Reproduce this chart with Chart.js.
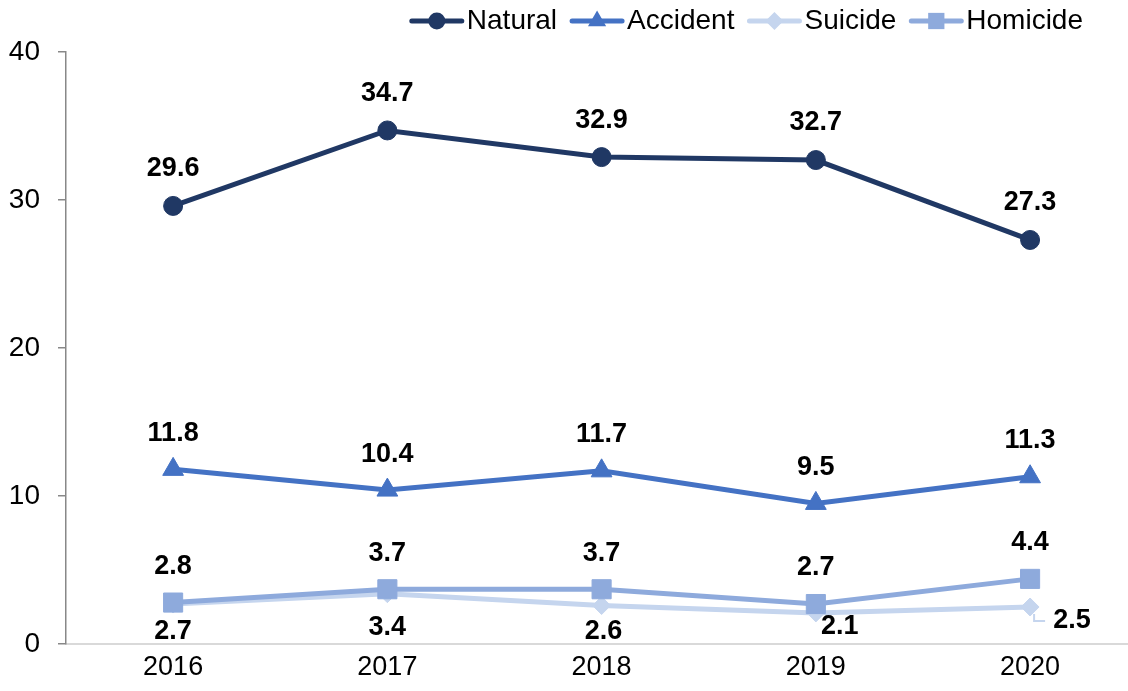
<!DOCTYPE html>
<html>
<head>
<meta charset="utf-8">
<script src="https://cdn.jsdelivr.net/npm/chart.js@4"></script>
<style>
  html, body { margin: 0; padding: 0; background: #fff; }
  #wrap { width: 1128px; height: 691px; }
</style>
</head>
<body>
<div id="wrap"><canvas id="deathchart"></canvas></div>
<script>
// values
var years = [2016, 2017, 2018, 2019, 2020];
var natural = [29.6, 34.7, 32.9, 32.7, 27.3];
var accident = [11.8, 10.4, 11.7, 9.5, 11.3];
var suicide = [2.7, 3.4, 2.6, 2.1, 2.5];
var homicide = [2.8, 3.7, 3.7, 2.7, 4.4];
var yTicks = [0, 10, 20, 30, 40];

var FONT = '"Liberation Sans", Arial, sans-serif';

function pts(vals) {
    return vals.map(function (v, i) { return { x: years[i], y: v }; });
}

// label offsets (px) from each point; suicide labels sit below / right like the original
var labelShift = {
    0: function () { return [0, -37]; },
    1: function () { return [0, -36]; },
    2: function (i) { return [[0, 28], [0, 34], [2, 26], [24, 14], [42, 14]][i]; },
    3: function () { return [0, -36]; }
};

var valueLabels = {
    id: 'valueLabels',
    afterDatasetsDraw: function (chart) {
        var ctx = chart.ctx;
        ctx.save();
        ctx.font = 'bold 27px ' + FONT;
        ctx.fillStyle = '#000';
        ctx.textAlign = 'center';
        ctx.textBaseline = 'middle';
        chart.data.datasets.forEach(function (ds, di) {
            var meta = chart.getDatasetMeta(di);
            meta.data.forEach(function (p, i) {
                var s = labelShift[di](i);
                ctx.fillText(ds.data[i].y.toFixed(1), p.x + s[0], p.y + s[1]);
            });
        });
        // tiny leader line for the last suicide label
        var last = chart.getDatasetMeta(2).data[4];
        ctx.strokeStyle = '#c5d5ee';
        ctx.lineWidth = 2;
        ctx.beginPath();
        ctx.moveTo(last.x + 4, last.y + 7);
        ctx.lineTo(last.x + 4, last.y + 14);
        ctx.lineTo(last.x + 15, last.y + 14);
        ctx.stroke();
        ctx.restore();
    }
};

// legend: line with marker, then the name, right-aligned at the top
var lineLegend = {
    id: 'lineLegend',
    afterDraw: function (chart) {
        var ctx = chart.ctx;
        var sizes = [8.5, 10.5, 9, 11.5];
        ctx.save();
        ctx.font = '28px ' + FONT;
        ctx.textBaseline = 'middle';
        ctx.textAlign = 'left';
        var ds = chart.data.datasets;
        var total = 0;
        ds.forEach(function (d, i) {
            total += 57 + ctx.measureText(d.label).width + (i < ds.length - 1 ? 13 : 0);
        });
        var x = 1083 - total, y = 21;
        ds.forEach(function (d, i) {
            ctx.strokeStyle = d.borderColor;
            ctx.fillStyle = d.borderColor;
            ctx.lineWidth = 5;
            ctx.lineCap = 'round';
            ctx.beginPath(); ctx.moveTo(x + 2, y); ctx.lineTo(x + 52, y); ctx.stroke();
            Chart.helpers.drawPoint(ctx, { pointStyle: d.pointStyle, radius: sizes[i], rotation: 0, borderWidth: 0 }, x + 27, y);
            ctx.fillStyle = '#000';
            ctx.fillText(d.label, x + 57, y);
            x += 57 + ctx.measureText(d.label).width + 13;
        });
        ctx.restore();
    }
};

var ctx = document.getElementById('deathchart').getContext('2d');
var deathchart = new Chart(ctx, {
    type: 'line',
    data: {
        datasets: [{
            label: 'Natural',
            data: pts(natural),
            borderColor: '#203864',
            backgroundColor: '#203864',
            pointStyle: 'circle',
            pointRadius: 9.5,
            order: 0
        }, {
            label: 'Accident',
            data: pts(accident),
            borderColor: '#4472c4',
            backgroundColor: '#4472c4',
            pointStyle: 'triangle',
            pointRadius: 12,
            order: 1
        }, {
            label: 'Suicide',
            data: pts(suicide),
            borderColor: '#c5d5ee',
            backgroundColor: '#c5d5ee',
            pointStyle: 'rectRot',
            pointRadius: 9,
            order: 3
        }, {
            label: 'Homicide',
            data: pts(homicide),
            borderColor: '#8eaadc',
            backgroundColor: '#8eaadc',
            pointStyle: 'rect',
            pointRadius: 13.5,
            order: 2
        }]
    },
    options: {
        responsive: true,
        maintainAspectRatio: false,
        animation: false,
        events: [],
        layout: { autoPadding: false, padding: { left: 9, right: 0, top: 52, bottom: 0 } },
        elements: {
            line: { borderWidth: 5, tension: 0 },
            point: { borderWidth: 1 }
        },
        plugins: {
            tooltip: { enabled: false },
            legend: { display: false }
        },
        scales: {
            x: {
                type: 'linear',
                min: 2015.5,
                max: 2020.457,
                afterBuildTicks: function (axis) {
                    axis.ticks = years.map(function (v) { return { value: v }; });
                },
                afterFit: function (axis) {
                    axis.height = 47;
                    axis.paddingLeft = 0;
                    axis.paddingRight = 0;
                },
                grid: { display: false, drawTicks: false },
                border: { color: '#d9d9d9', width: 2 },
                ticks: {
                    padding: 7,
                    color: '#000',
                    font: { size: 27, family: FONT },
                    callback: function (v) { return String(v); }
                }
            },
            y: {
                min: 0,
                max: 40,
                afterBuildTicks: function (axis) {
                    axis.ticks = yTicks.map(function (v) { return { value: v }; });
                },
                afterFit: function (axis) {
                    axis.width = 57;
                },
                grid: { drawOnChartArea: false, drawTicks: true, tickLength: 8, color: '#888', lineWidth: 1.5 },
                border: { color: '#888', width: 1.5 },
                ticks: {
                    padding: 18,
                    color: '#000',
                    font: { size: 28, family: FONT }
                }
            }
        }
    },
    plugins: [valueLabels, lineLegend]
});
</script>
</body>
</html>
